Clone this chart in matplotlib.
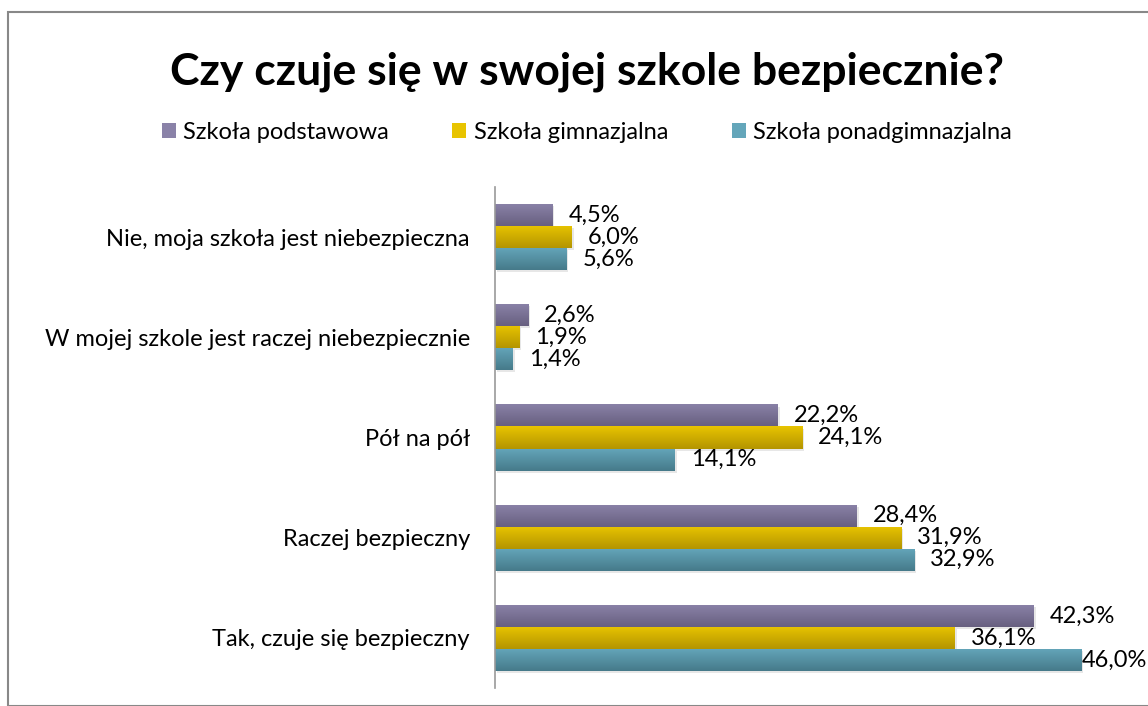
import numpy as np
import matplotlib
matplotlib.use('Agg')
import matplotlib.pyplot as plt
from matplotlib.patches import Patch, Rectangle
from matplotlib.colors import LinearSegmentedColormap
import matplotlib.patheffects as pe

plt.rcParams['font.family'] = ['Lato', 'DejaVu Sans']

# dane
kategorie = ['Tak, czuje się bezpieczny', 'Raczej bezpieczny', 'Pół na pół',
             'W mojej szkole jest raczej niebezpiecznie', 'Nie, moja szkoła jest niebezpieczna']
serie = ['Szkoła podstawowa', 'Szkoła gimnazjalna', 'Szkoła ponadgimnazjalna']
podstawowa = [42.3, 28.4, 22.2, 2.6, 4.5]
gimnazjalna = [36.1, 31.9, 24.1, 1.9, 6.0]
ponadgimnazjalna = [46.0, 32.9, 14.1, 1.4, 5.6]

# kolory (gora, dol gradientu)
kolory = [('#8a82a8', '#686080'), ('#e8c400', '#b49500'), ('#64a6ba', '#467a8a')]

fig = plt.figure(figsize=(11.48, 7.06), dpi=100)
ax = fig.add_axes([495 / 1148, 1 - 688 / 706, (1132 - 495) / 1148, (688 - 187) / 706])

h = 0.22
y = np.arange(len(kategorie))
offsets = [h, 0, -h]
wartosci = [podstawowa, gimnazjalna, ponadgimnazjalna]

for vals, off, (c1, c2) in zip(wartosci, offsets, kolory):
    cmap = LinearSegmentedColormap.from_list('g', [c2, c1])
    bars = ax.barh(y + off, vals, height=h, color=c1, linewidth=0,
                   path_effects=[pe.SimplePatchShadow(offset=(1.5, -1.5), alpha=0.15, shadow_rgbFace='#606060'),
                                 pe.Normal()])
    for b, v in zip(bars, vals):
        x0, y0 = b.get_x(), b.get_y()
        im = ax.imshow(np.linspace(0, 1, 50).reshape(-1, 1), cmap=cmap, aspect='auto',
                       extent=[x0, x0 + b.get_width(), y0, y0 + b.get_height()],
                       origin='lower', zorder=2)
        im.set_clip_path(b)
        # etykieta przy koncu slupka, przesunieta do srodka przy prawej krawedzi
        ax.text(min(v + 1.25, 46.05), y0 + h / 2, f'{v:.1f}%'.replace('.', ','), va='center', ha='left',
                fontsize=17, color='#000000', zorder=3, clip_on=False)

ax.set_xlim(0, 50)
ax.set_ylim(-0.5, len(kategorie) - 0.5)
ax.set_yticks(y)
ax.set_yticklabels(kategorie, fontsize=17)
ax.tick_params(axis='y', length=0, pad=18)
ax.set_xticks([])
for s in ['top', 'right', 'bottom']:
    ax.spines[s].set_visible(False)
ax.spines['left'].set_color('#999999')
ax.spines['left'].set_linewidth(1.2)
ax.set_zorder(1)

# tytul i legenda
fig.text(0.511, 0.898, 'Czy czuje się w swojej szkole bezpiecznie?', ha='center', va='center',
         fontsize=32, fontweight='bold')
uchwyty = [Patch(facecolor=c, edgecolor='none') for c, _ in kolory]
fig.legend(uchwyty, serie, loc='center', bbox_to_anchor=(0.511, 0.812), ncol=3, frameon=False,
           fontsize=17, handlelength=0.6, handleheight=0.6, handletextpad=0.3, columnspacing=2.7)

# ramka wykresu
fig.patches.append(Rectangle((7.5 / 1148, 0), 1.1, 1 - 11.5 / 706, transform=fig.transFigure,
                             fill=False, edgecolor='#888888', linewidth=1.5))

plt.savefig('out.png', dpi=100)
